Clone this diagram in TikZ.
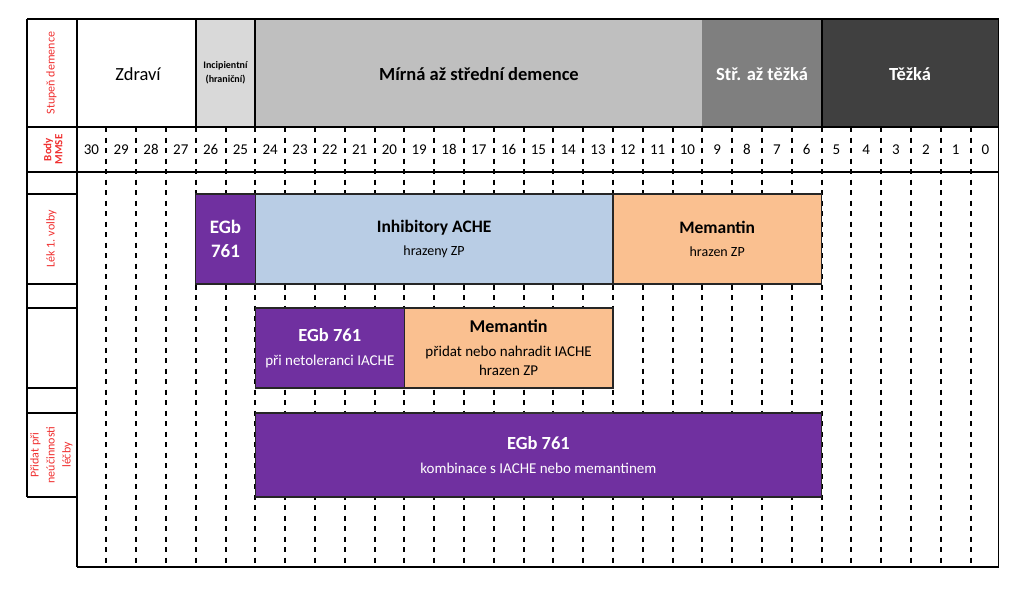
\documentclass[tikz,border=0pt]{standalone}
\usepackage{fontspec}
\setmainfont{Carlito}
\definecolor{gInc}{HTML}{D9D9D9}
\definecolor{gMir}{HTML}{BFBFBF}
\definecolor{gStr}{HTML}{7F7F7F}
\definecolor{gTez}{HTML}{404040}
\definecolor{cBlue}{HTML}{B9CDE5}
\definecolor{cOrange}{HTML}{FAC090}
\definecolor{cPurple}{HTML}{7030A0}
\definecolor{cRed}{HTML}{F03030}
\begin{document}
\begin{tikzpicture}[x=1pt,y=-1pt,
  frame/.style={line width=2pt,black},
  thinframe/.style={line width=1.5pt,black},
  dashline/.style={line width=2pt,black,dash pattern=on 5pt off 5.5pt},
  hdr/.style={font=\fontsize{18.5}{22}\selectfont, align=center, inner sep=0pt},
  num/.style={font=\fontsize{15}{16}\selectfont, inner sep=0pt},
  lbl/.style={font=\fontsize{12}{16}\selectfont, text=cRed, rotate=90, align=center, inner sep=0pt},
  boxnode/.style={draw=black!85, line width=1.2pt, inner sep=0pt, align=center, font=\fontsize{15}{24}\selectfont},
  pbox/.style={boxnode, fill=cPurple, text=white},
]
\useasboundingbox (0,0) rectangle (1024,589);
\fill[white] (0,0) rectangle (1024,589);
% header fills
\fill[gInc] (195.7,19) rectangle (255.3,127);
\fill[gMir] (255.3,19) rectangle (702.3,127);
\fill[gStr] (702.3,19) rectangle (821.5,127);
\fill[gTez] (821.5,19) rectangle (998.5,127);
% dashed column lines
\foreach \k in {1,...,30} \draw[dashline] ({76.5+\k*29.8},127) -- ({76.5+\k*29.8},567);
% numbers
\foreach \k in {0,...,30} {
  \pgfmathtruncatemacro\v{30-\k}
  \node[num] (n\k) at ({76.5+(\k+0.5)*29.8},149.5) {\v};
}
% header texts
\node[hdr] (zdravi) at (138,74) {Zdraví};
\node[hdr, font=\fontsize{10}{14}\selectfont\bfseries] (incip) at (225.5,73) {Incipientní\\(hraniční)};
\node[hdr, font=\fontsize{18.5}{22}\selectfont\bfseries] (mirna) at (479,74) {Mírná až střední demence};
\node[hdr, font=\fontsize{18.5}{22}\selectfont\bfseries, text=white] (strt) at (762,74) {Stř. až těžká};
\node[hdr, font=\fontsize{18.5}{22}\selectfont\bfseries, text=white] (tezka) at (910,74) {Těžká};
% left labels
\node[lbl] (stupen) at (51.5,73) {Stupeň demence};
\node[lbl, font=\fontsize{11}{11}\selectfont\bfseries] (body) at (53,149.5) {Body\\MMSE};
\node[lbl] (lek) at (51.5,239) {Lék 1. volby};
\node[lbl] (pridat) at (51.5,455) {Přidat při\\neúčinnosti\\léčby};
% boxes
\node[pbox, font=\fontsize{19}{24}\selectfont\bfseries, minimum width=59.6pt, minimum height=90pt] (egbA) at (225.5,239)
  {EGb\\761};
\node[boxnode, fill=cBlue, font=\fontsize{14}{23}\selectfont, minimum width=357.6pt, minimum height=90pt] (ache) at (434.1,239)
  {{\fontsize{17.5}{22}\selectfont\bfseries Inhibitory ACHE}\\hrazeny ZP};
\node[boxnode, fill=cOrange, font=\fontsize{14}{23}\selectfont, minimum width=208.6pt, minimum height=90pt] (memA) at (717.2,239)
  {{\fontsize{17.5}{22}\selectfont\bfseries Memantin}\\hrazen ZP};
\node[pbox, minimum width=149pt, minimum height=80pt] (egbB) at (329.8,348)
  {{\fontsize{18.5}{22}\selectfont\bfseries EGb 761}\\při netoleranci IACHE};
\node[boxnode, fill=cOrange, minimum width=208.6pt, minimum height=80pt] (memB) at (508.6,348)
  {{\fontsize{18}{22}\selectfont\bfseries Memantin}\\přidat nebo nahradit IACHE\\[-5pt]hrazen ZP};
\node[pbox, minimum width=566.2pt, minimum height=84pt] (egbC) at (538.4,455)
  {{\fontsize{18.5}{22}\selectfont\bfseries EGb 761}\\kombinace s IACHE nebo memantinem};
\coordinate (segA) at (495,413);
\coordinate (segB) at (612.9,413);
\draw[line width=2.5pt, black!80] (segA) -- (segB);
% frame
\draw[frame] (27,19) -- (998.5,19);
\draw[frame] (27,127) -- (998.5,127);
\draw[frame] (27,172) -- (998.5,172);
\draw[frame] (76.5,567) -- (998.5,567);
\draw[frame] (27,19) -- (27,497);
\draw[frame] (76.5,19) -- (76.5,567);
\draw[thinframe] (998.5,19) -- (998.5,567);
\draw[frame] (195.7,19) -- (195.7,127);
\draw[frame] (255.3,19) -- (255.3,127);
\draw[frame] (821.5,19) -- (821.5,127);
\foreach \yy in {194,284,308,388,413,497} \draw[thinframe] (27,\yy) -- (76.5,\yy);
\end{tikzpicture}
\end{document}
